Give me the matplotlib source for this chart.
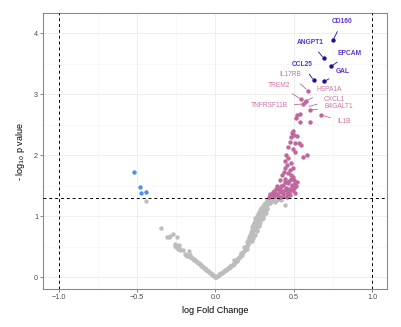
import matplotlib
matplotlib.use("Agg")
import matplotlib.pyplot as plt
from matplotlib.ticker import MultipleLocator

plt.rcParams['font.family'] = ['Liberation Sans', 'DejaVu Sans']

# ---------------- data ----------------
grey_x = [-0.444, -0.348, -0.308, -0.298, -0.287, -0.27, -0.245, -0.259, -0.255, -0.25, -0.245, -0.232,
          -0.24, -0.235, -0.228, -0.21, -0.196, -0.19, -0.186, -0.18, -0.168, -0.172, -0.165, -0.16,
          -0.155, -0.15, -0.145, -0.14, -0.135, -0.13, -0.125, -0.12, -0.115, -0.11, -0.105, -0.1,
          -0.095, -0.09, -0.085, -0.08, -0.075, -0.07, -0.065, -0.06, -0.055, -0.05, -0.045, -0.04,
          -0.035, -0.03, -0.025, -0.02, -0.015, -0.01, -0.005, 0.0,
          0.005, 0.01, 0.015, 0.02, 0.025, 0.03, 0.035, 0.04, 0.045, 0.05, 0.055, 0.06, 0.065, 0.07,
          0.075, 0.08, 0.085, 0.09, 0.095, 0.1, 0.105, 0.11, 0.115, 0.12, 0.125, 0.13, 0.135, 0.14,
          0.145, 0.15, 0.155, 0.16, 0.165, 0.17, 0.175, 0.18, 0.185, 0.19, 0.195, 0.2,
          0.12, 0.14, 0.16, 0.17, 0.18, 0.19, 0.2, 0.205, 0.21, 0.21, 0.215, 0.22, 0.22, 0.225,
          0.225, 0.23, 0.23, 0.235, 0.235, 0.24, 0.24, 0.245, 0.245, 0.25, 0.25, 0.255, 0.255, 0.26,
          0.26, 0.265, 0.265, 0.27, 0.27, 0.275, 0.275, 0.28, 0.28, 0.285, 0.285, 0.29, 0.29, 0.295,
          0.3, 0.3, 0.305, 0.31, 0.31, 0.315, 0.32, 0.32, 0.325, 0.33, 0.33, 0.335, 0.34, 0.345,
          0.35, 0.36, 0.37, 0.38, 0.39, 0.41, 0.42, 0.441, 0.3, 0.32, 0.262, 0.252, 0.242, 0.232,
          0.286, 0.296, 0.306, 0.316, 0.326, 0.275, 0.265, 0.215, 0.208, 0.198]
grey_y = [1.246, 0.81, 0.655, 0.66, 0.68, 0.715, 0.655, 0.546, 0.52, 0.5, 0.51, 0.49,
          0.47, 0.53, 0.45, 0.45, 0.39, 0.37, 0.36, 0.35, 0.44, 0.37, 0.36, 0.34,
          0.33, 0.32, 0.31, 0.3, 0.29, 0.28, 0.27, 0.26, 0.25, 0.24, 0.23, 0.22,
          0.2, 0.19, 0.18, 0.17, 0.16, 0.15, 0.14, 0.13, 0.12, 0.11, 0.1, 0.09,
          0.08, 0.07, 0.055, 0.045, 0.035, 0.022, 0.012, 0.0,
          0.01, 0.02, 0.03, 0.04, 0.05, 0.055, 0.065, 0.075, 0.085, 0.095, 0.1, 0.115, 0.12, 0.13,
          0.14, 0.15, 0.16, 0.17, 0.18, 0.19, 0.2, 0.21, 0.22, 0.24, 0.25, 0.27, 0.28, 0.3,
          0.31, 0.33, 0.34, 0.36, 0.38, 0.4, 0.42, 0.44, 0.46, 0.48, 0.5, 0.52,
          0.28, 0.27, 0.4, 0.36, 0.5, 0.45, 0.58, 0.55, 0.62, 0.56, 0.66, 0.6, 0.7, 0.74,
          0.65, 0.78, 0.69, 0.72, 0.82, 0.76, 0.86, 0.8, 0.9, 0.84, 0.93, 0.88, 0.97, 0.82,
          0.92, 1.0, 0.95, 0.88, 1.04, 0.98, 1.08, 1.02, 0.93, 1.1, 1.05, 1.0, 1.14, 1.08,
          1.17, 1.12, 1.04, 1.2, 1.15, 1.1, 1.24, 1.18, 1.22, 1.27, 1.13, 1.2, 1.25, 1.28,
          1.22, 1.26, 1.28, 1.24, 1.27, 1.28, 1.27, 1.19, 0.98, 1.05, 0.76, 0.7, 0.64, 0.6,
          0.9, 0.96, 1.0, 1.06, 1.12, 0.84, 0.78, 0.58, 0.54, 0.47]

pink_x = [0.588, 0.545, 0.56, 0.573, 0.58, 0.603, 0.675, 0.537, 0.52, 0.511, 0.537, 0.605,
          0.494, 0.486, 0.5, 0.48, 0.522, 0.509,
          0.475, 0.533, 0.545, 0.46, 0.497, 0.507, 0.582, 0.56, 0.448, 0.465, 0.443, 0.482,
          0.454, 0.44, 0.475, 0.46, 0.427, 0.497, 0.482, 0.411, 0.443, 0.465, 0.507, 0.39,
          0.42, 0.486, 0.443, 0.497, 0.376, 0.411, 0.465, 0.507, 0.359, 0.39, 0.433, 0.475,
          0.338, 0.411, 0.454, 0.47, 0.49, 0.45, 0.43, 0.4, 0.38, 0.5, 0.455, 0.425, 0.47, 0.44,
          0.395, 0.41, 0.37, 0.35, 0.48, 0.46, 0.5, 0.515, 0.43, 0.405, 0.385, 0.365, 0.345,
          0.47, 0.485, 0.452, 0.438, 0.52, 0.492]
pink_y = [3.06, 2.92, 2.84, 2.88, 2.895, 2.74, 2.66, 2.67, 2.66, 2.61, 2.55, 2.54,
          2.40, 2.36, 2.33, 2.30, 2.32, 2.20,
          2.22, 2.20, 2.17, 2.13, 2.10, 2.06, 2.0, 1.98, 2.0, 1.95, 1.91, 1.88,
          1.84, 1.79, 1.76, 1.71, 1.68, 1.65, 1.61, 1.60, 1.57, 1.54, 1.54, 1.50,
          1.49, 1.49, 1.44, 1.43, 1.42, 1.40, 1.39, 1.38, 1.35, 1.35, 1.33, 1.35,
          1.32, 1.31, 1.31, 1.45, 1.52, 1.47, 1.52, 1.45, 1.38, 1.46, 1.36, 1.41, 1.58, 1.62,
          1.37, 1.46, 1.33, 1.36, 1.68, 1.42, 1.59, 1.5, 1.38, 1.32, 1.45, 1.40, 1.34,
          1.40, 1.44, 1.56, 1.72, 1.56, 1.80]

blue_x = [-0.522, -0.478, -0.474, -0.442]
blue_y = [1.726, 1.48, 1.377, 1.40]

top_x = [0.749, 0.690, 0.739, 0.626, 0.694]
top_y = [3.885, 3.59, 3.46, 3.23, 3.21]
top_names = ['CD160', 'ANGPT1', 'EPCAM', 'CCL25', 'GAL']
top_lab_x = [0.809, 0.607, 0.855, 0.554, 0.809]
top_lab_y = [4.19, 3.85, 3.67, 3.49, 3.38]

pk_names = ['IL17RB', 'TREM2', 'HSPA1A', 'TNFRSF11B', 'CXCL1', 'B4GALT1', 'IL1B']
pk_x = [0.588, 0.545, 0.580, 0.56, 0.583, 0.603, 0.675]
pk_y = [3.06, 2.92, 2.895, 2.84, 2.79, 2.74, 2.66]
pk_lab_x = [0.478, 0.403, 0.722, 0.341, 0.758, 0.787, 0.819]
pk_lab_y = [3.32, 3.15, 3.08, 2.81, 2.92, 2.80, 2.55]

x_ticks = [-1.0, -0.5, 0.0, 0.5, 1.0]
y_ticks = [0, 1, 2, 3, 4]
fc_cut = [-1.0, 1.0]
p_cut = 1.30103

# ---------------- plot ----------------
GREY = '#BDBDBD'
PINK = '#C0679D'
BLUE = '#4F8FEF'
NAVY = '#2B0B9C'
NAVY_TXT = '#5B34D6'
PINK_TXT = '#CC74A6'

fig = plt.figure(figsize=(4.01, 3.27), dpi=100)
ax = fig.add_axes([0.107, 0.116, 0.858, 0.844])

ax.set_xlim(-1.1, 1.093)
ax.set_ylim(-0.19, 4.33)
ax.set_xticks(x_ticks)
ax.set_yticks(y_ticks)
ax.xaxis.set_minor_locator(MultipleLocator(0.25))
ax.yaxis.set_minor_locator(MultipleLocator(0.5))
ax.grid(which='major', color='#EBEBEB', lw=0.6, zorder=0)
ax.grid(which='minor', color='#F3F3F3', lw=0.4, zorder=0)
ax.set_axisbelow(True)
ax.tick_params(which='minor', length=0)
ax.tick_params(which='major', length=2, width=0.5, color='#555555', labelsize=5.2,
               labelcolor='#4D4D4D', pad=1.5)
ax.set_xticklabels(['\u22121.0', '\u22120.5', '0.0', '0.5', '1.0'])
for s in ax.spines.values():
    s.set_color('#8A8A8A')
    s.set_linewidth(0.8)

ax.scatter(grey_x, grey_y, s=10, color=GREY, lw=0, zorder=2)
ax.scatter(pink_x, pink_y, s=10, color=PINK, lw=0, zorder=3)
ax.scatter(blue_x, blue_y, s=10, color=BLUE, lw=0, zorder=3)
ax.scatter(top_x, top_y, s=10, color=NAVY, lw=0, zorder=4)

for v in fc_cut:
    ax.axvline(v, color='black', lw=0.7, ls=(0, (3, 3)), zorder=5)
ax.axhline(p_cut, color='black', lw=0.7, ls=(0, (3, 3)), zorder=5)

for n, px, py, lx, ly in zip(top_names, top_x, top_y, top_lab_x, top_lab_y):
    ax.annotate(n, xy=(px, py), xytext=(lx, ly), fontsize=4.8, color=NAVY_TXT,
                fontweight='bold', ha='center', va='center', zorder=6,
                arrowprops=dict(arrowstyle='-', color=NAVY, lw=0.6, shrinkA=3, shrinkB=1.5))
for n, px, py, lx, ly in zip(pk_names, pk_x, pk_y, pk_lab_x, pk_lab_y):
    ax.annotate(n, xy=(px, py), xytext=(lx, ly), fontsize=4.8, color=PINK_TXT,
                ha='center', va='center', zorder=6,
                arrowprops=dict(arrowstyle='-', color=PINK, lw=0.6, shrinkA=3, shrinkB=1.5))

ax.set_xlabel('log Fold Change', fontsize=6.5, labelpad=4)
ax.set_ylabel('- log$_{10}$ p value', fontsize=6.5, labelpad=5)

fig.savefig('out.png', dpi=100)
